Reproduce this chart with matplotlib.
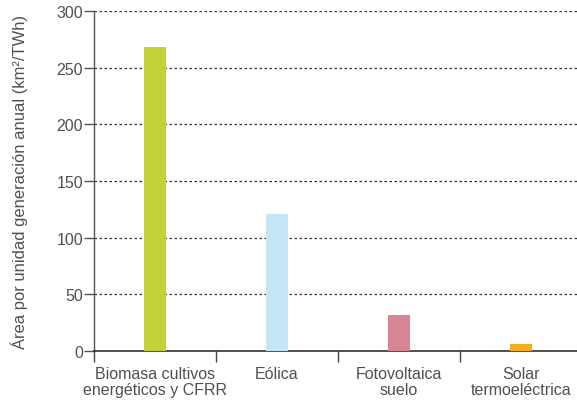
import matplotlib
matplotlib.use("Agg")
import matplotlib.pyplot as plt
import numpy as np

# datos
categorias = ["Biomasa cultivos\nenergéticos y CFRR", "Eólica", "Fotovoltaica\nsuelo", "Solar\ntermoeléctrica"]
area_km2_twh = [268, 121, 32, 6]
colores = ["#c0d13a", "#c6e5f7", "#d58593", "#f5ad1c"]
y_ticks = [0, 50, 100, 150, 200, 250, 300]

plt.rcParams['font.family'] = ['Liberation Sans', 'DejaVu Sans']
gris = "#505050"

fig = plt.figure(figsize=(5.77, 4.02), dpi=100)
ax = fig.add_axes([94 / 577, 50 / 402, 488 / 577, 340 / 402])

x = np.arange(len(categorias))
ax.bar(x, area_km2_twh, width=0.18, color=colores, zorder=3)

ax.set_xlim(-0.5, len(categorias) - 0.5)
ax.set_ylim(0, 300)
ax.set_yticks(y_ticks)
ax.yaxis.grid(True, color="#333333", linestyle=(0, (2, 2)), linewidth=0.9, zorder=1)
ax.tick_params(axis="y", labelsize=11.5, labelcolor=gris, color="#555555", length=7, width=1, pad=1)

# ticks en los límites de cada categoría, etiquetas centradas
ax.set_xticks(np.arange(len(categorias)) - 0.5)
ax.set_xticklabels([])
ax.tick_params(axis="x", which="major", length=8, width=1, color="#444444", direction="out")
ax.set_xticks(x, minor=True)
ax.set_xticklabels(categorias, minor=True, fontsize=11.5, color=gris, linespacing=1.05)
ax.tick_params(axis="x", which="minor", length=0, pad=11)

for s in ["top", "right"]:
    ax.spines[s].set_visible(False)
ax.spines["left"].set_color("#555555")
ax.spines["bottom"].set_color("#222222")
ax.spines["left"].set_linewidth(1)
ax.spines["bottom"].set_linewidth(1.1)

ax.set_ylabel("Área por unidad generación anual (km²/TWh)", fontsize=11.9, color=gris, labelpad=20)

fig.savefig("out.png", dpi=100)
